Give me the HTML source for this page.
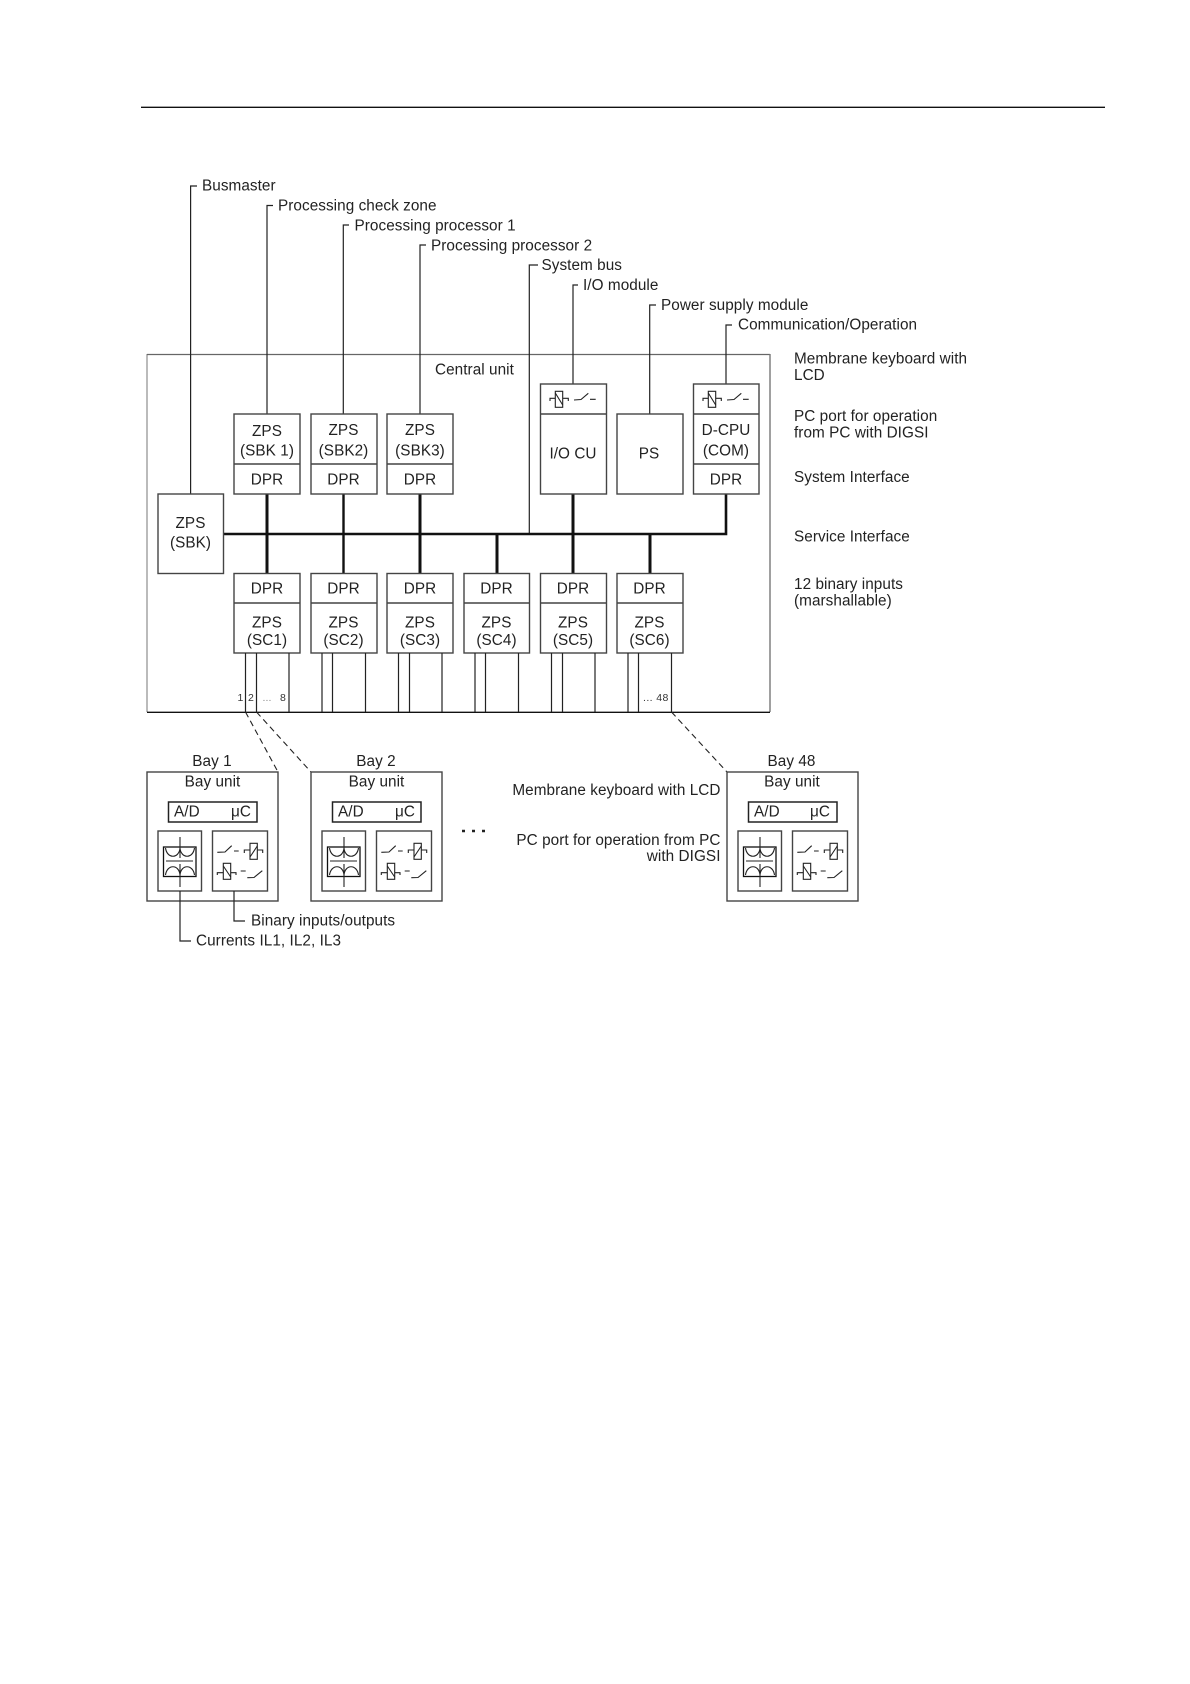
<!DOCTYPE html>
<html><head><meta charset="utf-8"><style>
html,body{margin:0;padding:0;background:#fff;width:1190px;height:1684px;overflow:hidden}
svg{display:block}
text{font-family:"Liberation Sans",sans-serif;font-size:15.3px;fill:#222;letter-spacing:.06px}
.c{text-anchor:middle}
.e{text-anchor:end}
.s{font-size:10.5px;fill:#333}
.b{fill:#fff;stroke:#444;stroke-width:1.4}
.l{fill:none;stroke:#222;stroke-width:1.2}
.h{fill:none;stroke:#111;stroke-width:3}
.d{fill:none;stroke:#222;stroke-width:1.1;stroke-dasharray:6 4}
.y{fill:none;stroke:#222;stroke-width:1.1}
</style></head><body>
<svg width="1190" height="1684" viewBox="0 0 1190 1684" xmlns="http://www.w3.org/2000/svg">
<defs>
<g id="coil" class="y"><rect x="555.3" y="391.3" width="7.4" height="16" fill="none"/><path d="M550 401V398.3H555.3M562.7 398.3H568.3V401M555.3 393L562.7 405"/></g>
<g id="sw" class="y"><path d="M574 400L581 399.5L588.3 393.3M590 399.3H595.7"/></g>
<g id="bay">
<rect class="b" x="147" y="772" width="131" height="129"/>
<rect x="168.5" y="802" width="88.5" height="20" fill="#fff" stroke="#222" stroke-width="1.5"/>
<rect class="b" x="158" y="831" width="43.5" height="60"/>
<rect class="b" x="212.5" y="831" width="55" height="60"/>
<rect x="163.5" y="847" width="32.5" height="29.5" fill="#fff" stroke="#111" stroke-width="1.3"/>
<path class="y" d="M180 837V858M180 864V887M166 861H193M165.5 848C167 859 179 859 180 848C181 859 193 859 194.5 848M165.5 875C167 864 179 864 180 875C181 864 193 864 194.5 875"/>
<path class="y" d="M217.3 852.3L225 852L231.7 845.7M234 851H238.7M244.3 853V850H250M257.3 850H262.7V853M250 857L257.3 846"/>
<rect class="y" x="250" y="843.3" width="7.3" height="16"/>
<rect class="y" x="223.3" y="863.3" width="7.4" height="16"/>
<path class="y" d="M217.3 875V872.7H223.3M230.7 872.7H236V875M223.3 866L230.7 877M240.7 871H245.7M247.3 877.7L254 877.5L262.3 870.7"/>
</g>
</defs>

<!-- header rule -->
<path d="M141 107.3H1105" stroke="#111" stroke-width="1.3"/>

<!-- central unit -->
<path d="M147 354V712" stroke="#aaa" stroke-width="1.6" fill="none"/>
<path d="M147 354.5H770" stroke="#666" stroke-width="1.2" fill="none"/>
<path d="M770 354V712" stroke="#777" stroke-width="1.4" fill="none"/>
<path d="M147 712.3H770" stroke="#111" stroke-width="1.3" fill="none"/>

<!-- leader lines -->
<path class="l" d="M197 186H190.6V494"/>
<path class="l" d="M273 205.5H267V414"/>
<path class="l" d="M349 225H343.3V414"/>
<path class="l" d="M426 245H420V414"/>
<path class="l" d="M538 265H529.3V534"/>
<path class="l" d="M578 285H573V384"/>
<path class="l" d="M656 305H649.7V414"/>
<path class="l" d="M732 325H726V384"/>

<!-- bus -->
<path d="M223 534H726V494" fill="none" stroke="#111" stroke-width="2.6"/>
<path class="h" d="M267 494V573M497 534V573M573 494V573M650 534V573M420 494V573"/>
<path d="M343.5 494V573" stroke="#111" stroke-width="2.4"/>

<!-- top boxes -->
<rect class="b" x="158" y="494" width="65.5" height="79.5"/>
<g>
<rect class="b" x="234" y="414" width="66" height="80"/><path class="b" d="M234 464H300"/>
<rect class="b" x="311" y="414" width="66" height="80"/><path class="b" d="M311 464H377"/>
<rect class="b" x="387" y="414" width="66" height="80"/><path class="b" d="M387 464H453"/>
<rect class="b" x="540.5" y="384" width="66" height="110"/><path class="b" d="M540.5 414H606.5"/>
<rect class="b" x="617" y="414" width="66" height="80"/>
<rect class="b" x="693.5" y="384" width="65.5" height="110"/><path class="b" d="M693.5 414H759M693.5 464H759"/>
</g>
<use href="#coil"/><use href="#sw"/>
<use href="#coil" x="153"/><use href="#sw" x="153"/>

<!-- lower boxes -->
<rect class="b" x="234" y="573.5" width="66" height="79.5"/><path class="b" d="M234 603H300"/>
<rect class="b" x="311" y="573.5" width="66" height="79.5"/><path class="b" d="M311 603H377"/>
<rect class="b" x="387" y="573.5" width="66" height="79.5"/><path class="b" d="M387 603H453"/>
<rect class="b" x="464" y="573.5" width="65.5" height="79.5"/><path class="b" d="M464 603H529.5"/>
<rect class="b" x="540.5" y="573.5" width="66" height="79.5"/><path class="b" d="M540.5 603H606.5"/>
<rect class="b" x="617" y="573.5" width="66" height="79.5"/><path class="b" d="M617 603H683"/>

<!-- input wires -->
<path class="l" d="M245.5 653V712M256.5 653V712M289 653V712M322 653V712M332.5 653V712M365.5 653V712M398.5 653V712M409.5 653V712M442 653V712M475 653V712M485.5 653V712M518.5 653V712M551.5 653V712M562.5 653V712M595 653V712M628 653V712M638.5 653V712M671.5 653V712"/>

<!-- dashed -->
<path class="d" d="M245.5 712L278 772M256.5 712L311 772M671.5 712L727 772"/>

<!-- bays -->
<use href="#bay"/>
<use href="#bay" x="164"/>
<use href="#bay" x="580"/>
<path class="l" d="M180 891V941H191M234 891V921H245"/>
<path d="M462 831h3M472 831h3M482 831h3" stroke="#222" stroke-width="2.4" fill="none"/>

<!-- labels -->
<text x="202" y="190.5">Busmaster</text>
<text x="278" y="210.5">Processing check zone</text>
<text x="354.5" y="230.5">Processing processor 1</text>
<text x="431" y="250.5">Processing processor 2</text>
<text x="541.5" y="270">System bus</text>
<text x="583" y="290">I/O module</text>
<text x="661" y="310">Power supply module</text>
<text x="738" y="329.5">Communication/Operation</text>
<text x="435" y="374.5">Central unit</text>

<text x="794" y="363.5">Membrane keyboard with</text>
<text x="794" y="380">LCD</text>
<text x="794" y="421">PC port for operation</text>
<text x="794" y="437.5">from PC with DIGSI</text>
<text x="794" y="482">System Interface</text>
<text x="794" y="541.5">Service Interface</text>
<text x="794" y="589">12 binary inputs</text>
<text x="794" y="605.5">(marshallable)</text>

<g class="c">
<text class="c" x="267" y="436">ZPS</text><text class="c" x="267" y="455.5">(SBK 1)</text><text class="c" x="267" y="484.5">DPR</text>
<text class="c" x="343.5" y="435">ZPS</text><text class="c" x="343.5" y="455.5">(SBK2)</text><text class="c" x="343.5" y="484.5">DPR</text>
<text class="c" x="420" y="435">ZPS</text><text class="c" x="420" y="455.5">(SBK3)</text><text class="c" x="420" y="484.5">DPR</text>
<text class="c" x="573" y="458.5">I/O CU</text>
<text class="c" x="649" y="458.5">PS</text>
<text class="c" x="726" y="435">D-CPU</text><text class="c" x="726" y="455.5">(COM)</text><text class="c" x="726" y="484.5">DPR</text>
<text class="c" x="190.5" y="528">ZPS</text><text class="c" x="190.5" y="547.5">(SBK)</text>

<text class="c" x="267" y="593.5">DPR</text><text class="c" x="267" y="627.5">ZPS</text><text class="c" x="267" y="645">(SC1)</text>
<text class="c" x="343.5" y="593.5">DPR</text><text class="c" x="343.5" y="627.5">ZPS</text><text class="c" x="343.5" y="645">(SC2)</text>
<text class="c" x="420" y="593.5">DPR</text><text class="c" x="420" y="627.5">ZPS</text><text class="c" x="420" y="645">(SC3)</text>
<text class="c" x="496.5" y="593.5">DPR</text><text class="c" x="496.5" y="627.5">ZPS</text><text class="c" x="496.5" y="645">(SC4)</text>
<text class="c" x="573" y="593.5">DPR</text><text class="c" x="573" y="627.5">ZPS</text><text class="c" x="573" y="645">(SC5)</text>
<text class="c" x="649.5" y="593.5">DPR</text><text class="c" x="649.5" y="627.5">ZPS</text><text class="c" x="649.5" y="645">(SC6)</text>
</g>

<text class="s c" x="240.5" y="701">1</text>
<text class="s c" x="251" y="701">2</text>
<text class="s c" x="267" y="701" style="fill:#888">...</text>
<text class="s c" x="283" y="701">8</text>
<text class="s" x="643" y="701" style="letter-spacing:.4px">... 48</text>

<text class="c" x="212" y="766">Bay 1</text><text class="c" x="212.5" y="786.5">Bay unit</text>
<text x="174" y="816.5">A/D</text><text class="e" x="251" y="816.5">μC</text>
<text class="c" x="376" y="766">Bay 2</text><text class="c" x="376.5" y="786.5">Bay unit</text>
<text x="338" y="816.5">A/D</text><text class="e" x="415" y="816.5">μC</text>
<text class="c" x="791.5" y="766">Bay 48</text><text class="c" x="792" y="786.5">Bay unit</text>
<text x="754" y="816.5">A/D</text><text class="e" x="830" y="816.5">μC</text>

<text class="e" x="720.5" y="795">Membrane keyboard with LCD</text>
<text class="e" x="720.5" y="845">PC port for operation from PC</text>
<text class="e" x="720.5" y="861">with DIGSI</text>
<text x="251" y="925.5">Binary inputs/outputs</text>
<text x="196" y="945.5">Currents IL1, IL2, IL3</text>
</svg>
</body></html>
